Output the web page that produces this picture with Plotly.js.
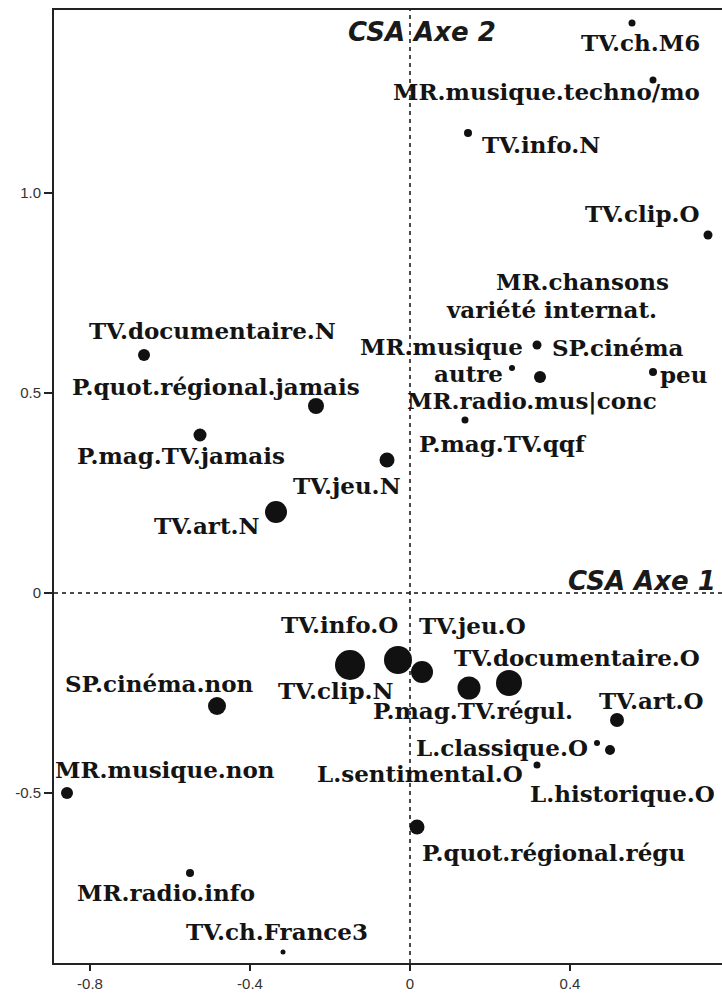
<!DOCTYPE html>
<html>
<head>
<meta charset="utf-8">
<script src="https://cdn.plot.ly/plotly-3.0.1.min.js"></script>
<style>
html,body{margin:0;padding:0;background:#fff;overflow:hidden;}
#chart{width:722px;height:995px;}
</style>
</head>
<body>
<div id="chart"></div>
<script>
// ---- Data ----
const categories = [
  "TV.ch.M6", "MR.musique.techno/mo", "TV.info.N", "TV.clip.O",
  "MR.chansons\nvariété internat.", "MR.musique\nautre", "MR.radio.mus|conc", "SP.cinéma\npeu",
  "P.mag.TV.qqf", "TV.jeu.N", "TV.documentaire.N", "P.quot.régional.jamais",
  "P.mag.TV.jamais", "TV.art.N", "TV.info.O", "TV.clip.N",
  "TV.jeu.O", "P.mag.TV.régul.", "TV.documentaire.O", "SP.cinéma.non",
  "MR.musique.non", "MR.radio.info", "TV.ch.France3", "TV.art.O",
  "L.classique.O", "L.historique.O", "L.sentimental.O", "P.quot.régional.régu"
];
const axe1 = [
  0.555, 0.6075, 0.145, 0.745,
  0.3175, 0.255, 0.325, 0.6075,
  0.1375, -0.0575, -0.665, -0.235,
  -0.525, -0.335, -0.15, -0.03,
  0.03, 0.1475, 0.2475, -0.4825,
  -0.8575, -0.55, -0.3175, 0.5175,
  0.4675, 0.5, 0.3175, 0.0175
];
const axe2 = [
  1.425, 1.2825, 1.15, 0.895,
  0.62, 0.5625, 0.54, 0.5525,
  0.4325, 0.3325, 0.595, 0.4675,
  0.395, 0.2025, -0.18, -0.1675,
  -0.1975, -0.2375, -0.225, -0.2825,
  -0.5, -0.7, -0.8975, -0.3175,
  -0.375, -0.3925, -0.43, -0.585
];
const masse = [
  7, 7, 8, 9,
  9, 6, 12, 8,
  7, 15, 12, 16,
  13, 22, 30, 28,
  22, 23, 26, 18,
  12, 8, 5, 14,
  6, 10, 7, 15
];
const xTickVals = [-0.8, -0.4, 0, 0.4];
const xTickText = ["-0.8", "-0.4", "0", "0.4"];
const yTickVals = [-0.5, 0, 0.5, 1.0];
const yTickText = ["-0.5", "0", "0.5", "1.0"];
const axisTitles = {x: "CSA Axe 1", y: "CSA Axe 2"};

// ---- Label placement: per text line [x shift px, y shift px, anchor] ----
const labelPlacement = [
  [[70, -19, "right"]], [[49, -11, "right"]], [[12, -11, "left"]], [[-6, 22, "right"]],
  [[45, 64, "center"], [14, 36, "center"]],
  [[-71, 22, "center"], [-44, -5, "center"]],
  [[-135, -24, "left"]],
  [[-103, 25, "left"], [5, -2, "left"]],
  [[-48, -23, "left"]], [[16, -25, "right"]], [[68, 25, "center"]], [[-100, 20, "center"]],
  [[-19, -20, "center"]], [[-14, -13, "right"]], [[-11, 41, "center"]], [[-62, -30, "center"]],
  [[-5, 47, "left"]], [[4, -22, "center"]], [[-57, 26, "left"]], [[-58, 23, "center"]],
  [[-14, 24, "left"]], [[-24, -19, "center"]], [[-6, 21, "center"]], [[34, 20, "center"]],
  [[-7, -4, "right"]], [[107, -43, "right"]], [[-12, -8, "right"]], [[3, -25, "left"]]
];

const PX = 400; // px per unit (for layout range computation)
const trace = {
  type: "scatter",
  mode: "markers",
  x: axe1,
  y: axe2,
  text: categories,
  hoverinfo: "text",
  marker: {size: masse, sizemode: "diameter", color: "#111", opacity: 1, line: {width: 0}},
  cliponaxis: false,
  showlegend: false
};

const labelFont = {family: "DejaVu Serif", size: 23, color: "#141414", weight: "bold"};
const annotations = [];
categories.forEach((c, i) => {
  c.split("\n").forEach((line, j) => {
    const p = labelPlacement[i][j];
    annotations.push({
      x: axe1[i], y: axe2[i], xref: "x", yref: "y",
      text: line,
      showarrow: false,
      xanchor: p[2],
      yanchor: "middle",
      xshift: p[0],
      yshift: p[1],
      font: labelFont
    });
  });
});
const axisFont = {family: "DejaVu Sans", size: 26, color: "#1a1a1a", weight: "bold", style: "italic"};
annotations.push({
  x: 0.22, y: 1.4575, xref: "x", yref: "y", text: axisTitles.y, showarrow: false,
  xanchor: "right", yanchor: "middle", yshift: -22, font: axisFont
});
annotations.push({
  x: 0.77, y: 0, xref: "x", yref: "y", text: axisTitles.x, showarrow: false,
  xanchor: "right", yanchor: "middle", yshift: 12, font: axisFont
});

const tickFont = {family: "Liberation Sans", size: 15, color: "#333"};
const layout = {
  width: 722, height: 995,
  margin: {l: 54, r: 0, t: 10, b: 32, pad: 0},
  paper_bgcolor: "#fff", plot_bgcolor: "#fff",
  showlegend: false,
  xaxis: {
    range: [(54 - 410) / PX, (722 - 410) / PX],
    tickvals: xTickVals, ticktext: xTickText,
    showgrid: false, zeroline: false,
    showline: true, mirror: true, linecolor: "#222", linewidth: 2,
    ticks: "outside", ticklen: 6, tickwidth: 1.5, tickcolor: "#222",
    tickfont: tickFont, fixedrange: true
  },
  yaxis: {
    range: [(593 - 963) / PX, (593 - 10) / PX],
    tickvals: yTickVals, ticktext: yTickText,
    showgrid: false, zeroline: false,
    showline: true, linecolor: "#222", linewidth: 2,
    ticks: "outside", ticklen: 8, tickwidth: 1.5, tickcolor: "#222",
    tickfont: tickFont, fixedrange: true
  },
  shapes: [
    {type: "line", xref: "x", yref: "paper", x0: 0, x1: 0, y0: 0, y1: 1,
     line: {color: "#111", width: 1.5, dash: "4px,4px"}, layer: "below"},
    {type: "line", xref: "paper", yref: "y", x0: 0, x1: 1, y0: 0, y1: 0,
     line: {color: "#111", width: 1.5, dash: "4px,4px"}, layer: "below"}
  ],
  annotations: annotations
};

Plotly.newPlot("chart", [trace], layout, {staticPlot: true, displayModeBar: false});
</script>
</body>
</html>
